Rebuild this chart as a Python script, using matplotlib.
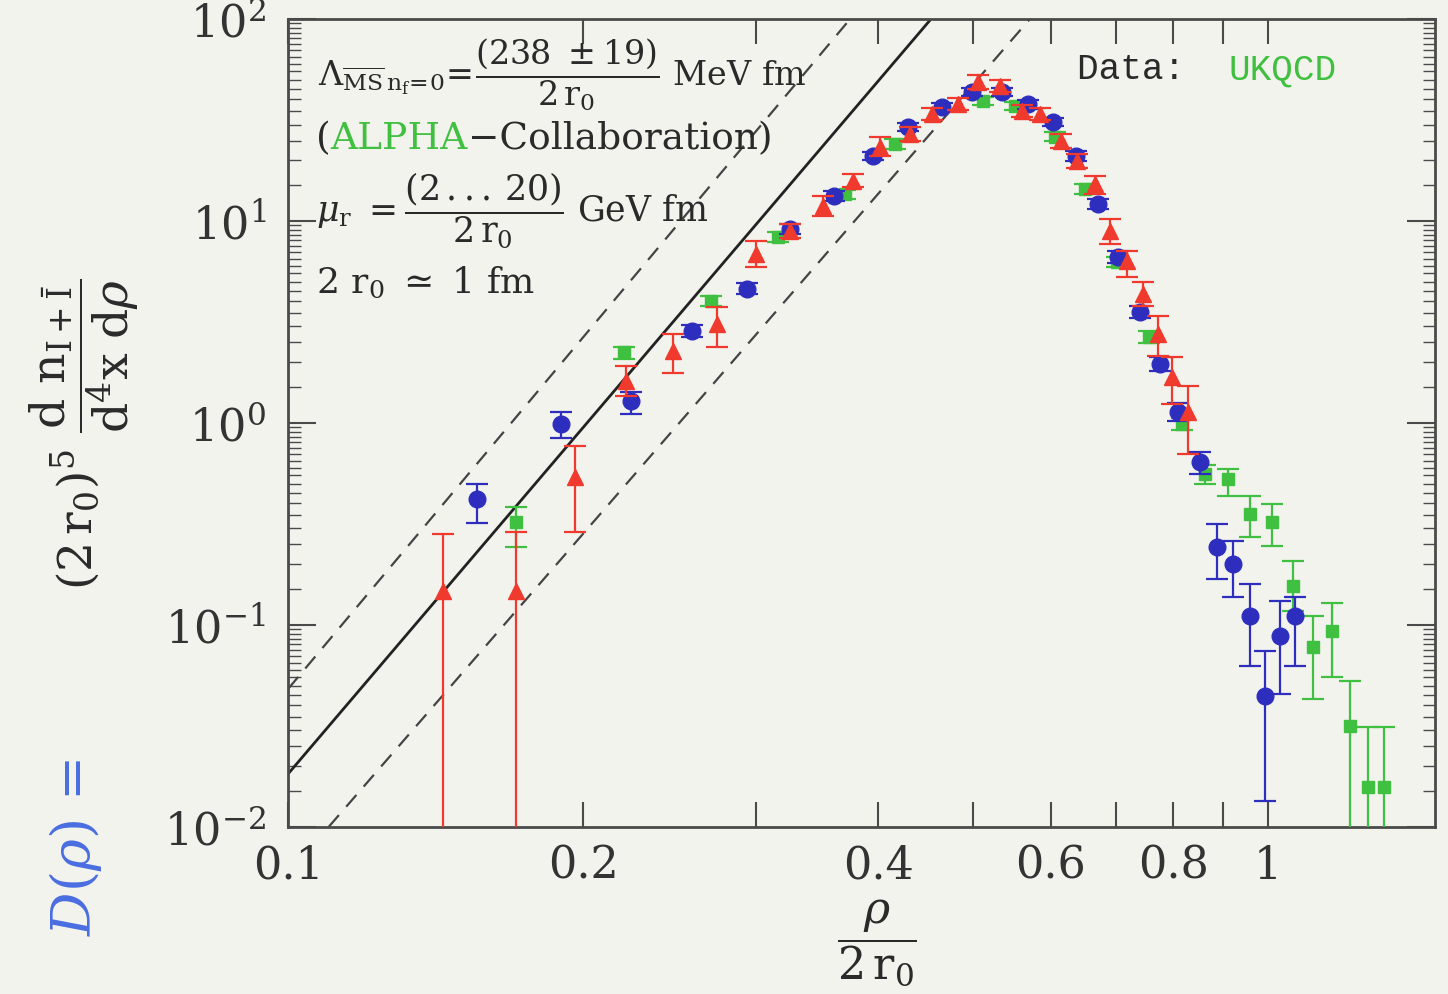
import numpy as np
import matplotlib
matplotlib.use("Agg")
import matplotlib.pyplot as plt
from matplotlib.offsetbox import TextArea, HPacker, AnnotationBbox
from matplotlib.ticker import LogLocator, NullLocator, NullFormatter

plt.rcParams["font.family"] = ["DejaVu Serif"]
plt.rcParams["mathtext.fontset"] = "dejavuserif"

# ---- data: (x, y, lower end of error bar, upper end) ----
blue_x = [0.156, 0.190, 0.224, 0.258, 0.294, 0.325, 0.361, 0.395, 0.429, 0.465, 0.499, 0.535,
          0.569, 0.603, 0.636, 0.671, 0.703, 0.740, 0.776, 0.809, 0.852, 0.887, 0.921, 0.959,
          0.993, 1.029, 1.066]
blue_y = [0.421, 0.989, 1.28, 2.85, 4.61, 9.12, 13.3, 21.0, 29.2, 36.6, 43.5, 43.5,
          37.9, 30.9, 21.0, 12.1, 6.64, 3.55, 1.96, 1.13, 0.641, 0.243, 0.200, 0.111,
          0.0446, 0.0883, 0.111]
blue_lo = [0.320, 0.843, 1.11, 2.65, 4.35, 8.6, 12.6, 20.0, 28.0, 35.0, 41.5, 41.5,
           36.0, 29.5, 19.9, 11.4, 6.2, 3.3, 1.8, 1.02, 0.56, 0.169, 0.138, 0.0627,
           0.0135, 0.0455, 0.0627]
blue_hi = [0.499, 1.13, 1.42, 3.05, 4.9, 9.7, 14.0, 22.0, 30.5, 38.2, 45.5, 45.5,
           39.8, 32.4, 22.1, 12.8, 7.1, 3.8, 2.12, 1.25, 0.72, 0.316, 0.261, 0.160,
           0.0743, 0.131, 0.138]

red_x = [0.144, 0.171, 0.196, 0.221, 0.247, 0.274, 0.300, 0.325, 0.351, 0.377, 0.402, 0.431,
         0.454, 0.482, 0.506, 0.533, 0.561, 0.585, 0.614, 0.638, 0.666, 0.690, 0.718, 0.746,
         0.772, 0.798, 0.829]
red_y = [0.147, 0.147, 0.541, 1.62, 2.27, 3.09, 6.87, 8.92, 11.9, 15.8, 23.2, 27.0,
         33.9, 37.9, 48.8, 46.6, 35.0, 33.9, 24.9, 19.8, 15.3, 8.92, 6.34, 4.35,
         2.76, 1.69, 1.13]
red_lo = [0.001, 0.001, 0.289, 1.36, 1.77, 2.38, 5.92, 8.2, 10.6, 14.7, 21.0, 25.0,
          31.5, 35.5, 45.0, 43.5, 32.5, 31.5, 23.0, 18.2, 13.6, 7.69, 5.28, 3.80,
          2.15, 1.24, 0.703]
red_hi = [0.282, 0.289, 0.769, 1.92, 2.76, 3.75, 7.96, 9.7, 13.3, 17.1, 26.1, 29.0,
          36.2, 40.5, 53.0, 50.0, 37.5, 36.3, 26.8, 21.4, 16.7, 10.2, 7.09, 5.00,
          3.39, 2.12, 1.52]

green_x = [0.171, 0.220, 0.270, 0.316, 0.370, 0.416, 0.512, 0.552, 0.606, 0.651, 0.701, 0.755,
           0.817, 0.862, 0.910, 0.959, 1.010, 1.061, 1.112, 1.162, 1.212, 1.265, 1.313]
green_y = [0.324, 2.24, 4.02, 8.34, 13.6, 24.0, 39.3, 37.1, 26.1, 14.4, 6.27, 2.66,
           0.989, 0.560, 0.528, 0.355, 0.324, 0.156, 0.0778, 0.0933, 0.0316, 0.0158, 0.0158]
green_lo = [0.243, 2.07, 3.8, 7.9, 12.9, 22.8, 37.5, 35.4, 24.8, 13.6, 5.9, 2.48,
            0.92, 0.50, 0.435, 0.273, 0.246, 0.117, 0.0430, 0.0553, 0.001, 0.001, 0.001]
green_hi = [0.384, 2.38, 4.25, 8.8, 14.3, 25.3, 41.2, 38.9, 27.4, 15.2, 6.65, 2.85,
            1.06, 0.62, 0.592, 0.435, 0.397, 0.207, 0.111, 0.128, 0.0528, 0.0313, 0.0313]

# theory lines (straight in log-log), end points
theory_x = [0.1, 0.453]
theory_y = [0.0183, 100.0]
band_up_x = [0.1, 0.3746]
band_up_y = [0.0482, 100.0]
band_lo_x = [0.110, 0.5715]
band_lo_y = [0.01, 100.0]

x_ticks = [0.1, 0.2, 0.3, 0.4, 0.5, 0.6, 0.7, 0.8, 0.9, 1.0]
x_ticklabels = ["0.1", "0.2", "", "0.4", "", "0.6", "", "0.8", "", "1"]

bg = "#f3f3ee"
blue = "#2e2ebe"
red = "#f03a2e"
green = "#40c040"
frame = "#4a4a4a"
ink = "#2a2a2a"

fig = plt.figure(figsize=(14.48, 9.95), dpi=100, facecolor=bg)
ax = fig.add_axes([0.199, 0.168, 0.792, 0.812], facecolor=bg)
ax.set_xscale("log")
ax.set_yscale("log")

ax.plot(theory_x, theory_y, color="#222222", lw=2.0, zorder=2)
ax.plot(band_up_x, band_up_y, color="#444444", lw=1.6, ls=(0, (7, 5)), zorder=2)
ax.plot(band_lo_x, band_lo_y, color="#444444", lw=1.6, ls=(0, (7, 5)), zorder=2)


def draw(xs, ys, lo, hi, color, marker, ms, z):
    xs, ys, lo, hi = map(np.asarray, (xs, ys, lo, hi))
    ax.errorbar(xs, ys, yerr=[ys - lo, hi - ys], fmt=marker, color=color, ms=ms,
                mec=color, ecolor=color, elinewidth=1.6, capsize=8, capthick=1.6,
                zorder=z)


draw(green_x, green_y, green_lo, green_hi, green, "s", 9, 3)
draw(blue_x, blue_y, blue_lo, blue_hi, blue, "o", 12, 4)
draw(red_x, red_y, red_lo, red_hi, red, "^", 11, 5)

ax.set_xlim(0.1, 1.48)
ax.set_ylim(0.01, 100)

ax.set_xticks(x_ticks)
ax.set_xticklabels(x_ticklabels)
ax.xaxis.set_minor_locator(NullLocator())
ax.yaxis.set_major_locator(LogLocator(base=10, numticks=10))
ax.yaxis.set_minor_locator(LogLocator(base=10, subs=np.arange(1.5, 10, 0.5), numticks=40))
ax.yaxis.set_minor_formatter(NullFormatter())

ax.tick_params(which="both", direction="in", top=True, right=True, color=frame,
               labelsize=32, labelcolor="#333333")
ax.tick_params(axis="x", which="major", length=18, width=1.5, pad=12)
ax.tick_params(axis="y", which="major", length=20, width=1.5, pad=16)
ax.tick_params(axis="y", which="minor", length=9, width=1.0)
for s in ax.spines.values():
    s.set_color(frame)
    s.set_linewidth(2)

# ---- annotations ----
txt = dict(transform=ax.transAxes, color=ink, va="center", ha="left")
ax.text(0.026, 0.932,
        r"$\Lambda_{\overline{\mathrm{MS}}\,\mathrm{n_f\!=\!0}}\!=\!"
        r"\dfrac{(238\ \pm 19)}{2\,\mathrm{r}_0}$ MeV fm", fontsize=24, **txt)
ax.text(0.024, 0.765,
        r"$\mu_\mathrm{r}\ =\dfrac{(2\,...\,20)}{2\,\mathrm{r}_0}$ GeV fm", fontsize=25, **txt)
ax.text(0.024, 0.676, r"2 r$_0$ $\simeq$ 1 fm", fontsize=26, **txt)

alpha_box = HPacker(children=[
    TextArea("(", textprops=dict(fontsize=27, color=ink)),
    TextArea("ALPHA", textprops=dict(fontsize=27, color=green)),
    TextArea("\u2212Collaboration)", textprops=dict(fontsize=27, color=ink)),
], align="baseline", pad=0, sep=0)
ax.add_artist(AnnotationBbox(alpha_box, (0.024, 0.852), xycoords="axes fraction",
                             box_alignment=(0, 0.5), frameon=False, pad=0))

data_box = HPacker(children=[
    TextArea("Data:  ", textprops=dict(fontsize=26, color=ink, family="Liberation Mono")),
    TextArea("UKQCD", textprops=dict(fontsize=26, color=green, family="Liberation Mono")),
], align="baseline", pad=0, sep=0)
ax.add_artist(AnnotationBbox(data_box, (0.688, 0.938), xycoords="axes fraction",
                             box_alignment=(0, 0.5), frameon=False, pad=0))

# ---- axis labels ----
fig.text(0.052, 0.148, r"$D(\rho)$ =", rotation=90, fontsize=39, color="#4a6ee0",
         ha="center", va="center")
fig.text(0.058, 0.564,
         r"$(2\,\mathrm{r}_0)^5\ \dfrac{\mathrm{d\ n}_{\mathrm{I+\bar{I}}}}"
         r"{\mathrm{d}^4\mathrm{x\ d}\rho}$",
         rotation=90, fontsize=34, color=ink, ha="center", va="center")
fig.text(0.606, 0.052, r"$\dfrac{\rho}{2\,\mathrm{r}_0}$", fontsize=32, color=ink,
         ha="center", va="center")

fig.savefig("out.png", dpi=100, facecolor=bg)
